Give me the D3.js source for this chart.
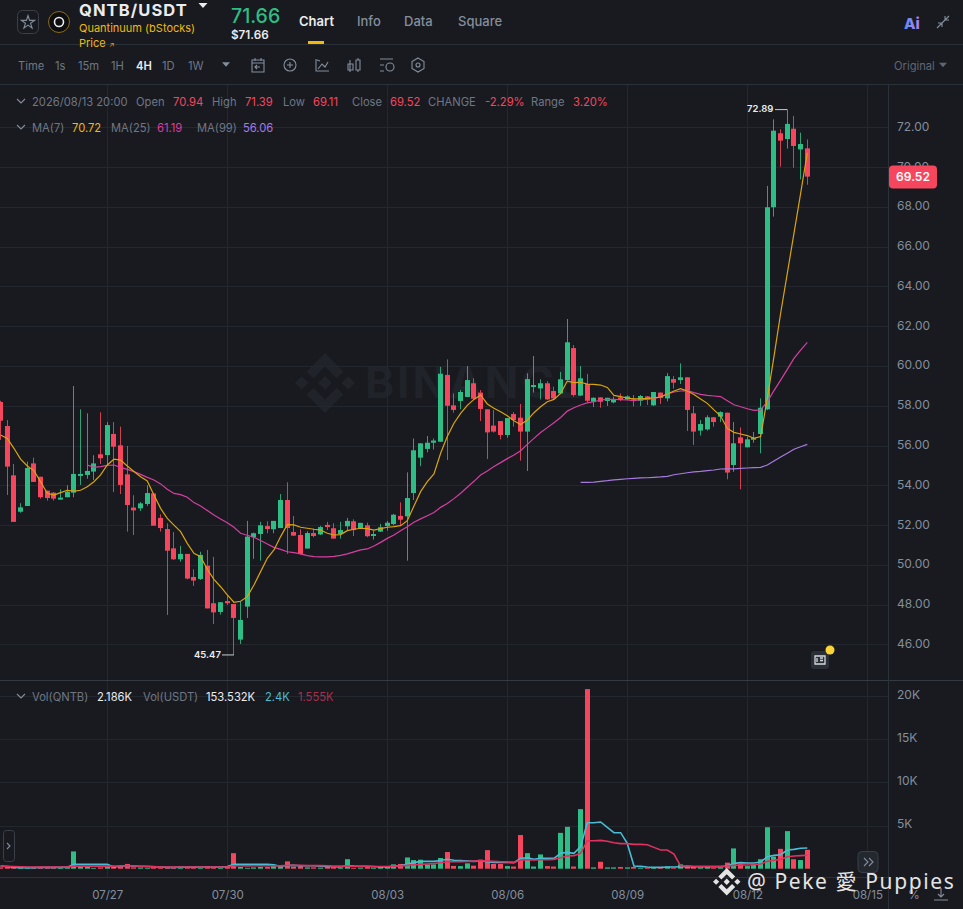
<!DOCTYPE html>
<html>
<head>
<meta charset="utf-8">
<script src="https://cdn.jsdelivr.net/npm/d3@7"></script>
<style>
  html, body { margin: 0; padding: 0; background: #181a20; overflow: hidden; }
  svg { display: block; font-family: Inter, "Noto Sans", sans-serif; }
  .tick line, .domain { display: none; }
</style>
</head>
<body>
<svg id="svg" width="963" height="909"></svg>
<script>
// 4h candles, first one is 07/24 08:00
const opens = [58.19,56.98,54.50,52.67,52.96,55.10,54.43,53.73,53.63,53.28,
  53.40,53.63,54.47,54.52,54.69,55.56,55.52,56.58,56.01,54.55,
  52.88,52.84,53.06,53.59,52.36,51.80,50.83,50.28,50.55,49.39,
  49.29,49.96,48.07,47.63,48.18,48.03,46.24,47.90,51.39,51.55,
  51.95,51.79,51.85,53.26,51.65,51.50,50.82,51.60,51.53,52.01,
  51.84,51.55,51.94,52.19,51.85,51.99,51.45,51.67,51.95,52.05,
  52.46,52.44,53.61,55.39,55.83,56.14,56.19,59.55,58.02,58.24,
  58.44,59.13,58.66,57.82,57.00,57.23,56.53,57.58,57.40,56.70,
  58.94,58.87,59.13,58.74,58.62,59.29,60.90,58.51,59.09,58.20,
  58.42,58.24,58.17,58.42,58.32,58.32,58.25,58.47,58.02,58.66,
  58.37,59.34,59.29,59.43,57.62,56.75,56.81,57.42,57.45,57.65,
  55.02,56.41,55.91,56.29,56.58,57.82,67.98,71.70,71.41,71.93,
  70.89,70.94];
const highs = [58.25,57.28,55.07,53.10,55.19,55.39,54.43,53.73,53.66,53.80,
  54.00,58.99,57.82,57.62,55.51,57.67,57.18,57.18,56.95,55.98,
  53.50,53.16,54.00,53.59,52.54,52.09,51.65,50.95,50.55,49.78,
  50.66,50.75,50.40,48.12,48.49,48.03,48.15,52.21,51.62,52.16,
  52.19,52.21,53.56,54.15,52.46,51.79,51.69,51.82,51.96,52.16,
  52.09,52.16,52.36,52.29,52.11,52.12,51.72,52.06,52.21,52.56,
  53.14,54.65,56.35,56.11,56.48,56.35,59.96,60.33,58.62,58.79,
  60.00,59.38,58.79,57.82,57.79,57.23,57.38,57.68,58.09,59.63,
  60.50,59.33,59.23,58.96,59.70,62.36,61.05,60.00,59.60,58.42,
  58.42,58.40,58.46,58.62,58.52,58.54,58.54,58.49,58.69,58.66,
  59.64,59.49,60.13,59.43,57.99,57.28,57.52,57.42,57.72,57.65,
  57.18,56.91,56.45,56.68,58.37,69.05,72.40,71.90,72.89,72.57,
  71.73,71.39];
const lows = [56.28,53.51,52.16,52.62,52.96,54.17,53.33,53.23,53.23,53.28,
  53.40,53.40,54.02,54.33,54.27,55.07,55.02,53.66,53.56,51.67,
  51.50,52.71,52.96,51.97,51.67,47.48,50.25,50.16,49.27,48.94,
  49.24,47.81,47.03,47.50,47.98,45.47,46.02,47.33,50.30,50.21,
  51.59,51.59,51.85,50.55,51.45,50.51,50.82,51.39,51.50,51.75,
  51.32,51.32,51.75,51.45,51.82,51.39,51.27,51.65,51.72,51.99,
  51.99,50.21,53.26,54.96,55.66,55.80,56.19,55.27,57.65,57.82,
  58.44,58.34,57.23,55.32,56.65,56.31,56.39,56.95,55.24,54.72,
  58.66,58.32,58.29,58.32,58.59,59.29,58.46,58.49,58.17,57.94,
  57.90,57.99,58.12,58.24,58.29,57.97,57.99,58.04,57.99,58.09,
  58.22,58.86,59.09,56.73,56.03,56.50,56.75,56.95,57.18,54.30,
  54.68,53.80,55.91,56.14,55.61,57.78,67.51,70.02,70.93,69.97,
  69.38,69.11];
const closes = [57.25,54.94,52.16,52.89,54.87,54.17,53.40,53.36,53.33,53.38,
  53.68,54.57,54.57,54.72,55.10,55.36,57.03,55.94,54.02,53.01,
  52.74,53.09,53.61,51.97,51.85,50.71,50.28,50.55,49.31,49.21,
  50.50,47.81,47.61,48.12,48.07,47.33,47.23,51.42,51.59,51.99,
  51.80,52.21,53.26,51.85,51.47,50.55,51.60,51.45,51.90,51.90,
  51.32,51.75,52.21,51.75,52.11,51.44,51.55,51.89,52.12,52.52,
  52.27,53.36,55.76,56.11,56.14,56.25,59.61,58.00,57.79,58.69,
  59.29,58.35,57.84,56.66,56.70,56.53,57.38,57.28,56.70,59.34,
  59.04,59.13,58.32,58.37,59.33,61.19,58.54,59.38,58.25,58.40,
  58.20,58.40,58.32,58.29,58.47,58.24,58.49,58.32,58.69,58.39,
  59.49,59.16,59.43,57.79,56.70,57.08,57.42,57.18,57.68,54.64,
  56.11,56.11,56.31,56.39,57.90,67.98,71.83,71.33,72.17,71.06,
  71.16,69.52];
const ma7 = [56.53,56.36,55.86,55.32,54.97,54.74,54.18,53.60,53.51,53.63,
  53.75,53.71,53.75,53.93,54.18,54.52,55.02,55.31,55.27,54.97,
  54.69,54.43,54.22,53.51,52.84,52.34,52.00,51.67,51.08,50.58,
  50.41,49.78,49.27,48.90,48.49,48.12,48.17,48.40,48.99,49.66,
  50.33,50.75,51.42,52.02,52.01,51.89,51.84,51.79,51.75,51.59,
  51.50,51.52,51.72,51.79,51.84,51.82,51.75,51.82,51.89,51.92,
  51.97,52.22,52.96,53.68,54.18,54.57,55.61,56.45,57.12,57.62,
  58.02,58.32,58.54,58.09,57.87,57.70,57.50,57.25,57.06,57.28,
  57.65,57.95,58.20,58.32,58.62,59.24,59.16,59.18,59.09,59.07,
  59.04,58.92,58.52,58.46,58.39,58.35,58.35,58.37,58.40,58.44,
  58.59,58.74,58.86,58.74,58.57,58.34,58.12,57.79,57.48,56.86,
  56.66,56.58,56.50,56.36,56.45,58.37,60.47,62.65,64.66,66.67,
  68.68,70.72];
const ma25Start = 13;
const ma25 = [55.02,54.90,54.94,55.00,55.02,54.90,54.80,54.69,54.55,54.40,
  54.27,54.07,53.80,53.59,53.53,53.40,53.13,52.96,52.73,52.51,
  52.31,52.12,51.89,51.59,51.49,51.39,51.22,51.05,50.88,50.78,
  50.66,50.61,50.55,50.46,50.41,50.40,50.40,50.43,50.48,50.55,
  50.65,50.75,50.80,50.95,51.13,51.33,51.50,51.72,51.92,52.14,
  52.31,52.47,52.63,52.89,53.09,53.33,53.60,53.90,54.20,54.52,
  54.72,54.94,55.14,55.34,55.52,55.74,56.06,56.36,56.65,56.90,
  57.15,57.41,57.73,57.90,58.04,58.14,58.20,58.29,58.32,58.32,
  58.30,58.29,58.25,58.30,58.32,58.37,58.44,58.59,58.69,58.74,
  58.76,58.66,58.57,58.52,58.49,58.46,58.25,58.05,57.95,57.85,
  57.77,57.79,58.20,58.76,59.29,59.83,60.38,60.80,61.19];
const ma99Start = 87;
const ma99 = [54.15,54.15,54.16,54.20,54.23,54.27,54.30,54.33,54.35,54.37,
  54.38,54.40,54.42,54.45,54.53,54.58,54.63,54.67,54.70,54.74,
  54.77,54.82,54.83,54.83,54.85,54.87,54.89,54.90,55.02,55.22,
  55.42,55.61,55.81,55.94,56.06];
// volume in K
const volumes = [.15,.2,.15,.1,.1,.1,.12,.1,.1,.15,
  .2,2.0,.25,.2,.1,.15,.2,.2,.25,.55,
  .15,.12,.1,.15,.1,.1,.12,.1,.1,.1,
  .1,.3,.2,.1,.2,1.8,.2,.1,.15,.2,
  .2,.3,.25,.85,.25,.3,.15,.15,.12,.2,
  .15,.1,1.1,.1,.12,.2,.12,.2,.2,.5,
  .55,1.3,1.0,1.04,.5,.5,1.24,1.93,.32,.3,
  .62,.35,1.05,2.15,.55,.55,.3,.25,3.9,1.8,
  .25,1.65,.3,.25,4.15,4.85,.25,6.9,20.8,.15,
  .8,.15,.15,.2,.15,.2,.1,.1,.1,.1,
  .25,.1,.5,.3,.2,.15,.2,.1,.15,.7,
  2.35,.55,.3,.5,1.1,4.8,1.4,2.3,4.35,1.1,
  1.0,2.186];
const volMaShort = [.3,.25,.15,.12,.12,.13,.15,.15,.15,.15,
  .18,.5,.5,.52,.5,.5,.5,.2,.3,.35,
  .3,.25,.25,.22,.2,.15,.15,.18,.18,.18,
  .2,.2,.2,.2,.25,.5,.5,.5,.5,.52,
  .52,.45,.25,.4,.38,.35,.35,.35,.3,.25,
  .22,.2,.35,.3,.28,.28,.25,.2,.2,.3,
  .35,.55,.7,.85,.85,.85,.95,1.1,.98,.95,
  .9,.85,.89,.81,.73,.73,.73,.7,1.2,1.27,
  1.08,1.2,1.2,1.2,1.78,1.89,1.78,2.55,5.33,5.33,
  5.41,4.79,4.17,4.17,2.93,.31,.27,.19,.15,.15,
  .19,.19,.23,.27,.23,.23,.23,.23,.23,.31,
  .62,.7,.66,.66,.77,1.39,1.54,1.62,2.16,2.24,
  2.36,2.4];
const volMaLong = [.28,.27,.25,.22,.2,.2,.2,.2,.2,.2,
  .2,.3,.3,.3,.32,.3,.3,.3,.32,.33,
  .32,.3,.28,.24,.2,.2,.18,.2,.2,.2,
  .2,.2,.2,.2,.22,.35,.35,.33,.35,.35,
  .35,.35,.33,.4,.4,.38,.36,.36,.36,.34,
  .3,.3,.3,.28,.26,.26,.26,.25,.26,.3,
  .32,.38,.45,.5,.55,.6,.68,.8,.8,.82,
  .84,.88,.93,.89,.85,.81,.77,.73,1.0,1.04,
  1.0,1.04,1.04,1.08,1.27,1.47,1.51,1.78,3.24,3.24,
  3.28,3.17,3.01,2.9,2.9,2.82,2.82,2.78,2.47,2.16,
  2.16,1.7,.31,.31,.27,.27,.27,.27,.27,.31,
  .39,.42,.42,.46,.54,.85,.97,1.08,1.39,1.47,
  1.51,1.555];
const priceTicks = [46,48,50,52,54,56,58,60,62,64,66,68,70,72];
const volTicks = [5,10,15,20];
const dateTicks = ["2026-07-27","2026-07-30","2026-08-03","2026-08-06","2026-08-09","2026-08-12","2026-08-15"];
const periods = ["Time","1s","15m","1H","4H","1D","1W"];
const periodX = [18,55,78,111,136,162,188];
const tabs = ["Chart","Info","Data","Square"];
const tabX = [299,357,404,458];

const GREEN = "#2ebd85", RED = "#f6465d", BG = "#181a20";
const GRAY = "#848e9c", SOFT = "#6f7784", DIM = "#5e6673", GRID = "#23272e", LINE = "#2b3139";
const YELLOW = "#f0b90b";
const LOGO = ["M38.73 53.2l24.59-24.58 24.6 24.6 14.3-14.31L63.32 0 24.43 38.9 38.73 53.2z",
  "M0 63.31l14.3-14.31 14.31 14.31-14.31 14.3z",
  "M38.73 73.41l24.59 24.59 24.6-24.6 14.31 14.29-38.9 38.91-38.91-38.88-.02-.02 14.33-14.29z",
  "M98.01 63.31l14.3-14.31 14.31 14.31-14.31 14.3z",
  "M77.83 63.3L63.32 48.78 52.59 59.51l-1.24 1.23-2.54 2.54 14.51 14.5 14.51-14.47z"];

const svg = d3.select("svg#svg");
const t0 = Date.UTC(2026, 6, 24, 8);
const H4 = 4 * 3600 * 1000;
const dateOf = i => new Date(t0 + i * H4);
const n = closes.length;

const x = d3.scaleUtc().domain([dateOf(0), dateOf(n - 1)]).range([0.6, 807.3]);
const y = d3.scaleLinear().domain([46, 72]).range([644.4, 127.3]);
const yVol = d3.scaleLinear().domain([0, 20]).range([868.7, 696]);
const xi = i => x(dateOf(i));

function label(s, px, py, fill, size = 11.2, weight = 400) {
    return svg.append("text").attr("x", px).attr("y", py).attr("fill", fill)
        .attr("font-size", size).attr("font-weight", weight).text(s);
}
function hline(py, x1, x2, color) {
    svg.append("line").attr("x1", x1).attr("x2", x2).attr("y1", py).attr("y2", py).attr("stroke", color);
}
function chevron(cx, cy) {
    svg.append("path").attr("d", `M${cx-4} ${cy-2}L${cx} ${cy+2}L${cx+4} ${cy-2}`)
        .attr("fill", "none").attr("stroke", GRAY).attr("stroke-width", 1.1);
}
function tri(cx, cy, w, h, color) {
    svg.append("path").attr("d", `M${cx-w/2} ${cy-h/2}L${cx+w/2} ${cy-h/2}L${cx} ${cy+h/2}Z`).attr("fill", color);
}

// watermark
const wm = svg.append("g").attr("transform", "translate(295,353) scale(0.474)");
wm.selectAll("path").data(LOGO).enter().append("path").attr("d", d => d).attr("fill", "#202329");
svg.append("text").attr("x", 365).attr("y", 398).attr("fill", "#202329").attr("font-size", 44)
    .attr("font-weight", 700).attr("letter-spacing", 3).text("BINANCE");

// grids
svg.append("g").selectAll("line").data(priceTicks).enter().append("line")
    .attr("x1", 0).attr("x2", 888).attr("y1", d => Math.round(y(d)) + .5).attr("y2", d => Math.round(y(d)) + .5)
    .attr("stroke", GRID);
svg.append("g").selectAll("line").data(volTicks).enter().append("line")
    .attr("x1", 0).attr("x2", 888).attr("y1", d => Math.round(yVol(d)) + .5).attr("y2", d => Math.round(yVol(d)) + .5)
    .attr("stroke", GRID);
const dates = dateTicks.map(d => new Date(d + "T00:00:00Z"));
svg.append("g").selectAll("line").data(dates).enter().append("line")
    .attr("x1", d => Math.floor(x(d)) + .5).attr("x2", d => Math.floor(x(d)) + .5)
    .attr("y1", 85).attr("y2", 878).attr("stroke", GRID);

// candles
const idx = d3.range(n);
const colorOf = i => closes[i] >= opens[i] ? GREEN : RED;
svg.append("g").selectAll("line").data(idx).enter().append("line")
    .attr("x1", i => Math.floor(xi(i)) + .5).attr("x2", i => Math.floor(xi(i)) + .5)
    .attr("y1", i => y(highs[i])).attr("y2", i => y(lows[i]))
    .attr("stroke", colorOf).attr("stroke-opacity", .85);
svg.append("g").selectAll("rect").data(idx).enter().append("rect")
    .attr("x", i => Math.floor(xi(i)) - 2).attr("width", 5)
    .attr("y", i => y(Math.max(opens[i], closes[i])))
    .attr("height", i => Math.max(1, Math.abs(y(opens[i]) - y(closes[i]))))
    .attr("fill", colorOf);

// moving averages
const lineOf = (scale, start = 0) => d3.line().x((d, i) => xi(i + start)).y(d => scale(d));
function maLine(values, scale, start, color, w) {
    svg.append("path").attr("d", lineOf(scale, start)(values)).attr("fill", "none")
        .attr("stroke", color).attr("stroke-width", w);
}
maLine(ma99, y, ma99Start, "#a77be0", 1.2);
maLine(ma25, y, ma25Start, "#d63fa0", 1.2);
maLine(ma7, y, 0, "#dba40d", 1.2);

// volume
svg.append("g").selectAll("rect").data(idx).enter().append("rect")
    .attr("x", i => Math.floor(xi(i)) - 2).attr("width", 5)
    .attr("y", i => yVol(volumes[i])).attr("height", i => yVol(0) - yVol(volumes[i]))
    .attr("fill", colorOf);
maLine(volMaShort, yVol, 0, "#4bbcd6", 1.6);
maLine(volMaLong, yVol, 0, "#e0315f", 1.6);

// axes
const axisRight = d3.axisRight(y).tickValues(priceTicks).tickFormat(d3.format(".2f")).tickSize(0).tickPadding(9);
svg.append("g").attr("transform", "translate(888,0)").call(axisRight)
    .call(g => g.selectAll("text").attr("fill", GRAY).attr("font-size", 12).attr("font-family", "Inter").attr("dy", "0.25em"));
const axisVol = d3.axisRight(yVol).tickValues(volTicks).tickFormat(d => d + "K").tickSize(0).tickPadding(9);
svg.append("g").attr("transform", "translate(888,0)").call(axisVol)
    .call(g => g.selectAll("text").attr("fill", GRAY).attr("font-size", 12).attr("font-family", "Inter").attr("dy", "0.2em"));
const axisDate = d3.axisBottom(x).tickValues(dates).tickFormat(d3.utcFormat("%m/%d")).tickSize(0).tickPadding(13);
svg.append("g").attr("transform", "translate(0,878)").call(axisDate)
    .call(g => g.selectAll("text").attr("fill", GRAY).attr("font-size", 11.5).attr("font-family", "Inter"));

// panel borders
hline(44.5, 0, 963, LINE);
hline(84.5, 0, 963, LINE);
hline(680.5, 0, 963, "#343a44");
hline(877.5, 0, 888, LINE);
svg.append("line").attr("x1", 888.5).attr("x2", 888.5).attr("y1", 85).attr("y2", 909).attr("stroke", LINE);

// high / low marks
label("72.89", 747, 112, "#eaecef", 9.5, 600);
svg.append("line").attr("x1", 775).attr("x2", xi(118)).attr("y1", y(72.89)).attr("y2", y(72.89)).attr("stroke", "#c8ccd2");
label("45.47", 194, 658, "#eaecef", 9.5, 600);
svg.append("line").attr("x1", 222).attr("x2", xi(35)).attr("y1", y(45.47)).attr("y2", y(45.47)).attr("stroke", "#c8ccd2");

// last price tag
svg.append("rect").attr("x", 889).attr("y", y(69.52) - 11).attr("width", 48).attr("height", 23).attr("rx", 4).attr("fill", RED);
label("69.52", 913, y(69.52) + 4.5, "#fff", 12, 600).attr("text-anchor", "middle");

// header
svg.append("rect").attr("x", 17.5).attr("y", 10.5).attr("width", 21).attr("height", 23).attr("rx", 5)
    .attr("fill", "none").attr("stroke", "#3a3f49");
svg.append("path").attr("fill", "none").attr("stroke", GRAY).attr("stroke-width", 1.1)
    .attr("d", d3.symbol(d3.symbolStar, 55)()).attr("transform", "translate(28,22.5)");
svg.append("circle").attr("cx", 59).attr("cy", 22).attr("r", 10.5).attr("fill", "#0e0e10").attr("stroke", "#8a6d12");
svg.append("circle").attr("cx", 59).attr("cy", 22).attr("r", 4.5).attr("fill", "none").attr("stroke", "#eaecef").attr("stroke-width", 1.6);
label("QNTB/USDT", 79, 16, "#eaecef", 16.5, 700).attr("letter-spacing", 1.1);
tri(203, 5.5, 9, 5, "#eaecef");
label("Quantinuum (bStocks)", 79, 32, YELLOW, 11);
label("Price", 79, 47, YELLOW, 11);
label("↗", 109, 47, YELLOW, 7);
label("71.66", 231, 23, GREEN, 19.5, 500);
label("$71.66", 231, 39, "#eaecef", 11.7, 600);
tabs.forEach((t, i) => label(t, tabX[i], 26, i == 0 ? "#eaecef" : GRAY, 13, i == 0 ? 600 : 500));
svg.append("rect").attr("x", 308).attr("y", 41).attr("width", 16).attr("height", 3).attr("fill", YELLOW);
const aiGrad = svg.append("defs").append("linearGradient").attr("id", "ai");
aiGrad.append("stop").attr("offset", "0%").attr("stop-color", "#5b8cf5");
aiGrad.append("stop").attr("offset", "100%").attr("stop-color", "#b583e8");
label("Ai", 904, 29, "url(#ai)", 15, 800);
svg.append("path").attr("fill", "none").attr("stroke", GRAY).attr("stroke-width", 1.1)
    .attr("d", "M937 28L943 22M938 23H942V27M949 16L945 20M949 20H945V16M943 22L945 20");

// toolbar
periods.forEach((p, i) => label(p, periodX[i], 70, p == "4H" ? "#eaecef" : SOFT, 11.2, p == "4H" ? 600 : 400));
tri(226, 64.5, 8, 4.5, GRAY);
const icons = [
  "M252 60H264V72H252ZM252 63H264M255 58V61M261 58V61M260 67H255M257 65L255 67L257 69",
  "M296 65A6 6 0 1 1 284 65A6 6 0 1 1 296 65M290 62V68M287 65H293",
  "M316 59V71H329M318 69L322 64L325 67L328 62M317 60L320 61",
  "M350 60V64M350 70V72M350 64H353V70H350ZM348 64H353V70H348ZM358 58V60M358 70V72M356 60H360V70H356Z",
  "M380 59H393M380 65H384M380 71H384M394 67A4 4 0 1 1 386 67A4 4 0 1 1 394 67",
  "M418 58L424 61.5V68.5L418 72L412 68.5V61.5ZM420 65A2 2 0 1 1 416 65A2 2 0 1 1 420 65"];
svg.append("g").selectAll("path").data(icons).enter().append("path").attr("d", d => d)
    .attr("fill", "none").attr("stroke", GRAY).attr("stroke-width", 1.1);
label("Original", 894, 70, DIM, 11.2);
tri(943, 65, 8, 4.5, DIM);

// legends
const row1 = [["2026/08/13 20:00",32,SOFT],["Open",136,SOFT],["70.94",173,RED],["High",212,SOFT],["71.39",245,RED],
  ["Low",283,SOFT],["69.11",313,RED],["Close",352,SOFT],["69.52",390,RED],["CHANGE",428,SOFT],
  ["-2.29%",485,RED],["Range",531,SOFT],["3.20%",573,RED]];
const row2 = [["MA(7)",32,SOFT],["70.72",72,YELLOW],["MA(25)",111,SOFT],["61.19",157,"#d63fa0"],["MA(99)",197,SOFT],["56.06",243,"#a77be0"]];
const row3 = [["Vol(QNTB)",32,SOFT],["2.186K",97,"#eaecef"],["Vol(USDT)",143,SOFT],["153.532K",206,"#eaecef"],["2.4K",265,"#4bbcd6"],["1.555K",298,"#a8304d"]];
chevron(21, 101); chevron(21, 127); chevron(21, 696);
row1.forEach(d => label(d[0], d[1], 106, d[2]));
row2.forEach(d => label(d[0], d[1], 132, d[2]));
row3.forEach(d => label(d[0], d[1], 701, d[2]));

// little widgets
svg.append("rect").attr("x", 811).attr("y", 651).attr("width", 18).attr("height", 18).attr("rx", 3).attr("fill", "#2b2f36");
svg.append("path").attr("d", "M815 656H825V664H815ZM817 658V662M820 658H823M820 660.5H823").attr("fill", "none").attr("stroke", "#d5d8dc").attr("stroke-width", 1.3);
svg.append("circle").attr("cx", 830).attr("cy", 650).attr("r", 4.5).attr("fill", "#fcd535");
svg.append("rect").attr("x", 3.5).attr("y", 830.5).attr("width", 11).attr("height", 31).attr("rx", 3).attr("fill", BG).attr("stroke", "#3a3f49");
svg.append("path").attr("d", "M7 843L10 846L7 849").attr("fill", "none").attr("stroke", GRAY).attr("stroke-width", 1.1);
svg.append("rect").attr("x", 858).attr("y", 851.5).attr("width", 20).attr("height", 21).attr("rx", 4).attr("fill", "#23272e").attr("stroke", "#3a3f49");
svg.append("path").attr("d", "M864 858L868 862L864 866M869 858L873 862L869 866").attr("fill", "none").attr("stroke", GRAY).attr("stroke-width", 1.1);
label("%", 908, 899, GRAY, 12);
svg.append("path").attr("d", "M941 888V897M938 894L941 897L944 894M934 900H948").attr("fill", "none").attr("stroke", GRAY).attr("stroke-width", 1.1);

// photo watermark, bottom right
const pm = svg.append("g").attr("transform", "translate(713,868) scale(0.217)");
pm.selectAll("path").data(LOGO).enter().append("path").attr("d", d => d).attr("fill", "#e4e4e4");
svg.append("text").attr("x", 747).attr("y", 889).attr("fill", "#e4e4e4").attr("font-size", 21).attr("letter-spacing", 1.6)
    .attr("font-family", "'Noto Sans','Noto Sans CJK TC',sans-serif").text("@ Peke 愛 Puppies");
</script>
</body>
</html>
